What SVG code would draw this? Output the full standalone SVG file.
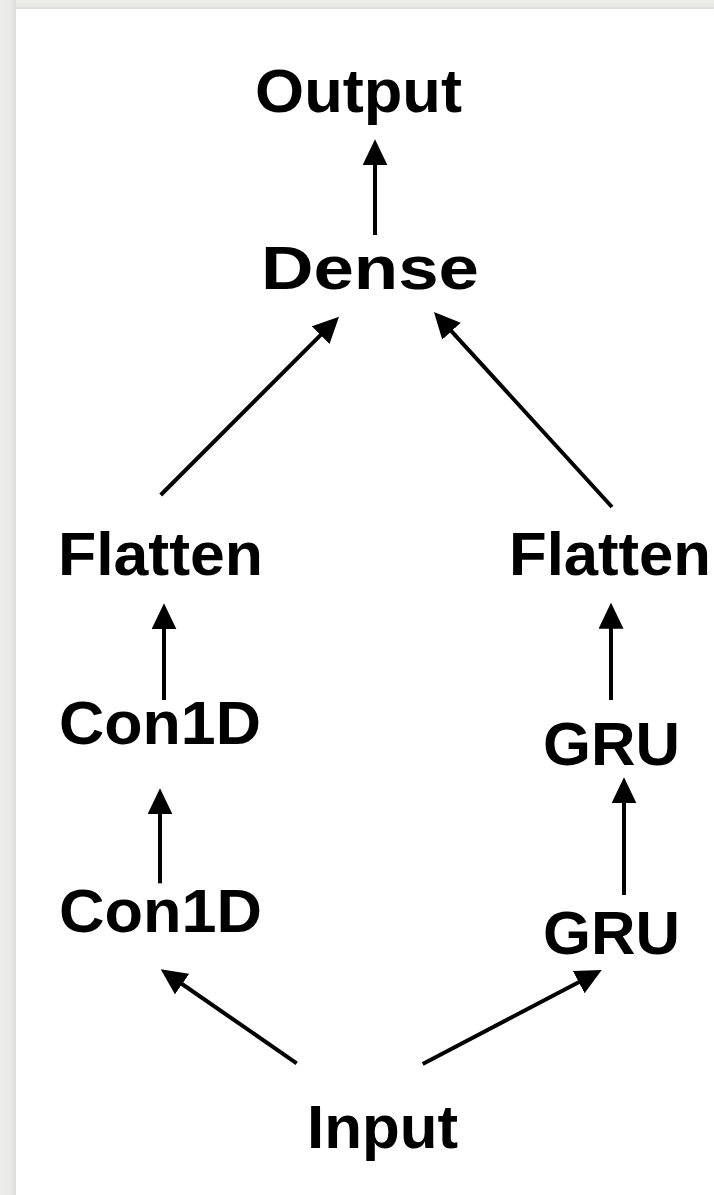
<svg xmlns="http://www.w3.org/2000/svg" width="714" height="1195" viewBox="0 0 714 1195">
  <defs>
    <linearGradient id="lb" x1="0" y1="0" x2="1" y2="0">
      <stop offset="0" stop-color="#eeeeec"/>
      <stop offset="0.7" stop-color="#e8e8e6"/>
      <stop offset="1" stop-color="#dcdcda"/>
    </linearGradient>
    <linearGradient id="tb" x1="0" y1="0" x2="0" y2="1">
      <stop offset="0" stop-color="#eeeeec"/>
      <stop offset="0.7" stop-color="#e8e8e6"/>
      <stop offset="1" stop-color="#dcdcda"/>
    </linearGradient>
    <marker id="ah" markerUnits="userSpaceOnUse" markerWidth="26" markerHeight="26" refX="8" refY="12.5" orient="auto">
      <path d="M0,0 L26,12.5 L0,25 Z" fill="#000"/>
    </marker>
  </defs>
  <style>
    .lbl { font-family: "Liberation Sans", Arial, Helvetica, sans-serif; font-weight: bold; fill: #000; font-size: 62px; }
    .con line { stroke: #000; stroke-width: 4; marker-end: url(#ah); }
  </style>
  <rect x="0" y="0" width="714" height="1195" fill="#ffffff"/>
  <rect x="0" y="0" width="714" height="9" fill="url(#tb)"/>
  <rect x="0" y="0" width="16" height="1195" fill="url(#lb)"/>

  <g id="output"><text class="lbl" x="255" y="112" textLength="207" lengthAdjust="spacingAndGlyphs">Output</text></g>
  <g id="dense"><text class="lbl" x="261" y="289" textLength="218" lengthAdjust="spacingAndGlyphs">Dense</text></g>
  <g id="flatten-left"><text class="lbl" x="58" y="575" textLength="205" lengthAdjust="spacingAndGlyphs">Flatten</text></g>
  <g id="flatten-right"><text class="lbl" x="509" y="575" textLength="202" lengthAdjust="spacingAndGlyphs">Flatten</text></g>
  <g id="con1d-upper"><text class="lbl" x="59" y="744" textLength="202" lengthAdjust="spacingAndGlyphs">Con1D</text></g>
  <g id="gru-upper"><text class="lbl" x="543" y="765" textLength="137" lengthAdjust="spacingAndGlyphs">GRU</text></g>
  <g id="con1d-lower"><text class="lbl" x="59" y="932" textLength="203" lengthAdjust="spacingAndGlyphs">Con1D</text></g>
  <g id="gru-lower"><text class="lbl" x="543" y="954" textLength="137" lengthAdjust="spacingAndGlyphs">GRU</text></g>
  <g id="input"><text class="lbl" x="307" y="1148" textLength="151" lengthAdjust="spacingAndGlyphs">Input</text></g>

  <g id="connectors" class="con">
    <line x1="375" y1="235" x2="375" y2="157.3"/>
    <line x1="160.7" y1="495" x2="326.3" y2="329.4"/>
    <line x1="612" y1="507" x2="446.1" y2="325.3"/>
    <line x1="164" y1="700" x2="164" y2="621.3"/>
    <line x1="160" y1="883.3" x2="160" y2="806.3"/>
    <line x1="611" y1="700" x2="611" y2="620.7"/>
    <line x1="624" y1="895" x2="624" y2="795.3"/>
    <line x1="296.7" y1="1063.3" x2="175.5" y2="979.5"/>
    <line x1="422.7" y1="1064" x2="585.8" y2="978.4"/>
  </g>
</svg>
